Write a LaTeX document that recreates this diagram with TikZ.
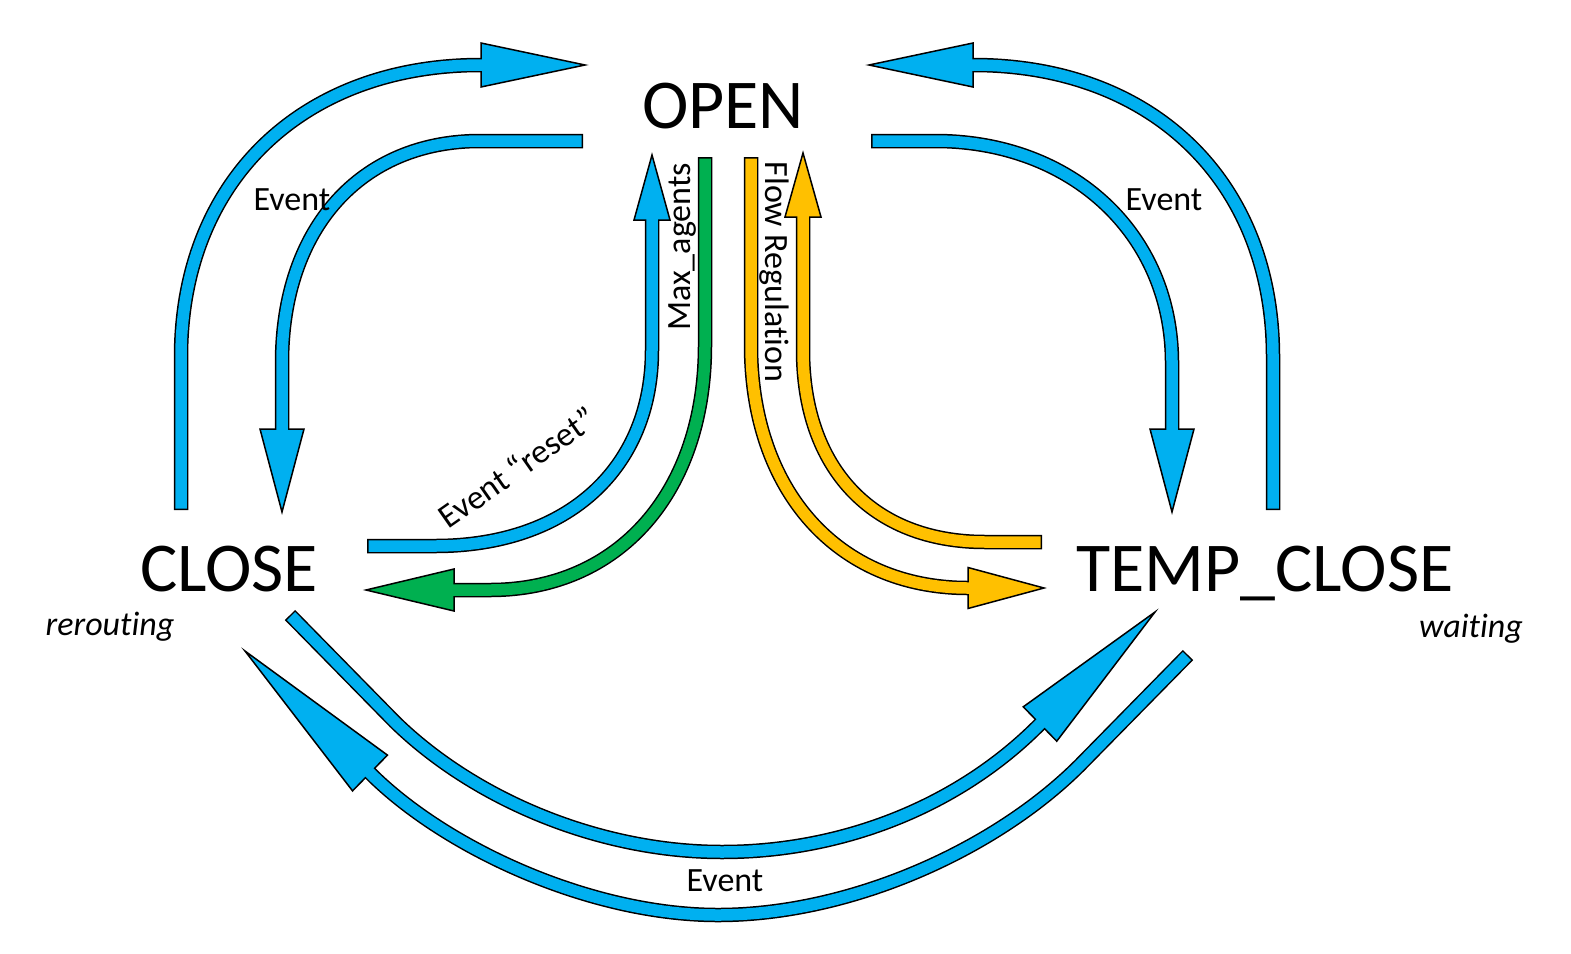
\documentclass[tikz,border=0pt]{standalone}
\usepackage{fontspec}
\setmainfont{Carlito}[Ligatures=CommonOff]
\usetikzlibrary{calc}
\definecolor{cblue}{HTML}{00B0F0}
\definecolor{cgreen}{HTML}{00B050}
\definecolor{cyellow}{HTML}{FFC000}
\tikzset{
  shaftline/.style={line width=14.5pt, draw=black},
  shaftfill/.style={line width=11.5pt, shorten <=1.5pt},
  headstyle/.style={draw=black, line width=1.5pt, line join=miter},
  statelabel/.style={font=\fontsize{70}{84}\selectfont, inner sep=0pt, anchor=base},
  evlabel/.style={font=\fontsize{34}{40}\selectfont, inner sep=0pt, anchor=base},
  sublabel/.style={font=\fontsize{34}{40}\selectfont\itshape, inner sep=0pt, anchor=base},
}
% #1 colour, #2 path up to the base point, #3 base, #4 tip, #5 half width of the head
\newcommand\blkarrow[5]{%
  \draw[shaftline] #2 (#3);
  \filldraw[headstyle, fill=#1] ($(#3)!#5!90:(#4)$) -- (#4) -- ($(#3)!#5!-90:(#4)$) -- cycle;
  \draw[shaftfill, draw=#1] #2 (#3) -- ($(#3)!3pt!(#4)$);
}
\begin{document}
\begin{tikzpicture}[x=1pt,y=-1pt]
\useasboundingbox (0,0) rectangle (1571,953);
\fill[white] (0,0) rectangle (1571,953);

% states
\node[statelabel] (open) at (723,128) {OPEN};
\node[statelabel] (close) at (229,591) {CLOSE};
\node[statelabel] (temp) at (1265,591) {TEMP\_CLOSE};
\node[sublabel] (rer) at (110,635) {rerouting};
\node[sublabel] (wait) at (1471,637) {waiting};

% coordinates
\coordinate (a1s) at (181,510); \coordinate (a1v) at (181,357);
\coordinate (a1b) at (481,65);  \coordinate (a1t) at (585,65);
\coordinate (a2s) at (583,141); \coordinate (a2h) at (480,141);
\coordinate (a2v) at (282,363); \coordinate (a2b) at (282,429); \coordinate (a2t) at (282,512);
\coordinate (a3s) at (1273,510); \coordinate (a3v) at (1273,357);
\coordinate (a3b) at (973,65);   \coordinate (a3t) at (869,65);
\coordinate (a4s) at (871,141);  \coordinate (a4h) at (935,141);
\coordinate (a4v) at (1172,363); \coordinate (a4b) at (1172,429); \coordinate (a4t) at (1172,512);
\coordinate (rs) at (367,546); \coordinate (rh) at (435,546);
\coordinate (rv) at (652,350); \coordinate (rb) at (652,220); \coordinate (rt) at (652,155);
\coordinate (gs) at (705,157); \coordinate (gv) at (705,345);
\coordinate (gh) at (490,590); \coordinate (gb) at (454,590); \coordinate (gt) at (366,590);
\coordinate (y1s) at (751,157); \coordinate (y1v) at (751,345);
\coordinate (y1b) at (968,588); \coordinate (y1t) at (1044,588);
\coordinate (y2s) at (1042,542); \coordinate (y2h) at (985,542);
\coordinate (y2v) at (803,350); \coordinate (y2b) at (803,217); \coordinate (y2t) at (803,153);
\coordinate (c1s) at (290,615); \coordinate (c1d) at (395,722); \coordinate (c1m) at (722,852);
\coordinate (c1b) at (1040,724); \coordinate (c1t) at (1155,612);
\coordinate (c2s) at (1188,655); \coordinate (c2d) at (1080,765); \coordinate (c2m) at (718,915);
\coordinate (c2b) at (370,773); \coordinate (c2t) at (245,651);

% top blue arrows
\blkarrow{cblue}{(a1s) -- (a1v) .. controls (181,182) and (301,65) ..}{a1b}{a1t}{22pt}
\blkarrow{cblue}{(a2s) -- (a2h) .. controls (361,141) and (282,228) .. (a2v) --}{a2b}{a2t}{22pt}
\blkarrow{cblue}{(a3s) -- (a3v) .. controls (1273,182) and (1153,65) ..}{a3b}{a3t}{22pt}
\blkarrow{cblue}{(a4s) -- (a4h) .. controls (1072,141) and (1172,234) .. (a4v) --}{a4b}{a4t}{22pt}

% centre arrows
\blkarrow{cblue}{(rs) -- (rh) .. controls (569,546) and (652,467) .. (rv) --}{rb}{rt}{18pt}
\blkarrow{cgreen}{(gs) -- (gv) .. controls (705,492) and (619,590) .. (gh) --}{gb}{gt}{21pt}
\blkarrow{cyellow}{(y1s) -- (y1v) .. controls (751,491) and (838,588) ..}{y1b}{y1t}{20.5pt}
\blkarrow{cyellow}{(y2s) -- (y2h) .. controls (872,542) and (803,468) .. (y2v) --}{y2b}{y2t}{18pt}

% bottom arrows
\blkarrow{cblue}{(c1s) -- (c1d) .. controls (475,800) and (600,852) .. (c1m) .. controls (844,852) and (960,805) ..}{c1b}{c1t}{24pt}
\blkarrow{cblue}{(c2s) -- (c2d) .. controls (995,850) and (850,915) .. (c2m) .. controls (590,915) and (445,848) ..}{c2b}{c2t}{25pt}

% labels
\node[evlabel] (ev1) at (292,210) {Event};
\node[evlabel] (ev2) at (1164,210) {Event};
\node[evlabel] (ev3) at (725,891) {Event};
\node[evlabel, rotate=90] (maxa) at (690,247) {Max\_agents};
\node[evlabel, rotate=-90] (flow) at (765,272) {Flow Regulation};
\node[evlabel, rotate=35] (reset) at (524,477) {Event “reset”};
\end{tikzpicture}
\end{document}
